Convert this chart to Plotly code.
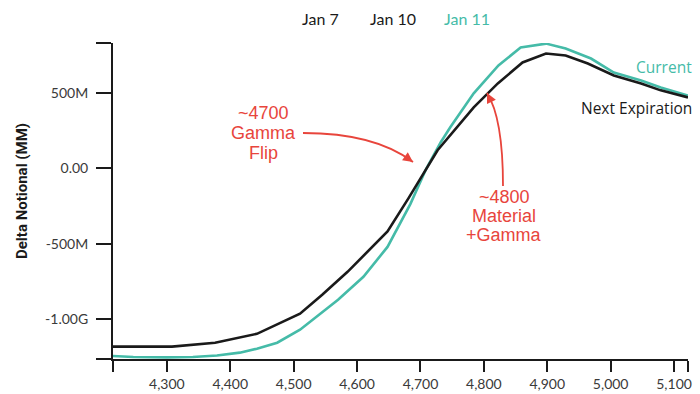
import plotly.graph_objects as go

# ---- data ----
cur_strikes = [4215, 4247, 4300, 4341, 4379, 4415, 4442, 4474, 4510, 4534, 4570, 4610,
               4648, 4684, 4708, 4732, 4747, 4784, 4823, 4858, 4898, 4929, 4969, 5005,
               5048, 5079, 5122]
cur_vals = [-1245, -1252, -1254, -1252, -1242, -1223, -1197, -1157, -1071, -991, -872, -720,
            -522, -238, -13, 172, 271, 496, 681, 800, 826, 793, 727, 634,
            581, 535, 482]

next_strikes = [4215, 4308, 4376, 4442, 4510, 4545, 4585, 4648, 4681, 4727, 4784, 4822,
                4861, 4898, 4929, 4964, 5005, 5048, 5079, 5122]
next_vals = [-1183, -1183, -1157, -1098, -965, -839, -687, -420, -200, 119, 403, 562,
             701, 760, 747, 694, 615, 562, 516, 469]

x_range = [4215, 5122]
y_range = [-1265, 830]
x_ticks = [4300, 4400, 4500, 4600, 4700, 4800, 4900, 5000, 5100]
x_tick_labels = ["4,300", "4,400", "4,500", "4,600", "4,700", "4,800", "4,900", "5,000", "5,100"]
y_ticks = [-1000, -500, 0, 500]
y_tick_labels = ["-1.00G", "-500M", "0.00", "500M"]
legend_labels = ["Jan 7", "Jan 10", "Jan 11"]

TEAL = "#45bba8"
BLACK = "#1a1a1a"
RED = "#e8453c"
GRAY = "#3a3a3a"

fig = go.Figure()
fig.add_trace(go.Scatter(x=cur_strikes, y=cur_vals, mode="lines",
                         line=dict(color=TEAL, width=2.6), name="Current"))
fig.add_trace(go.Scatter(x=next_strikes, y=next_vals, mode="lines",
                         line=dict(color=BLACK, width=2.6), name="Next Expiration"))

fig.update_layout(
    width=700, height=394,
    margin=dict(l=113, r=12, t=43, b=35, autoexpand=False),
    paper_bgcolor="white", plot_bgcolor="white",
    showlegend=False,
    font=dict(family="Lato, Open Sans, sans-serif", color=GRAY),
)

TICKFONT = dict(size=14, color=GRAY, family="Lato, Open Sans, sans-serif")
fig.update_xaxes(
    range=x_range, showgrid=False, zeroline=False,
    showline=True, linecolor=BLACK, linewidth=2,
    ticks="outside", ticklen=11, tickwidth=2, tickcolor=BLACK,
    tickvals=[x_range[0] + 0.5] + x_ticks + [x_range[1] - 0.5],
    ticktext=[""] + x_tick_labels + [""],
    tickfont=TICKFONT,
)
fig.update_yaxes(
    range=y_range, showgrid=False, zeroline=False,
    showline=True, linecolor=BLACK, linewidth=2,
    ticks="outside", ticklen=15, tickwidth=2, tickcolor=BLACK,
    tickvals=[y_range[0] + 1] + y_ticks + [y_range[1] - 1],
    ticktext=[""] + y_tick_labels + [""],
    tickfont=TICKFONT, ticklabelstandoff=5,
)

def px(xp):
    return (xp - 113) / 575.0

def py(yp):
    return (359 - yp) / 316.0

ann = []
# top "legend" labels
for lab, xc, col in zip(legend_labels, [320, 393, 467], [BLACK, BLACK, TEAL]):
    ann.append(dict(text=lab, xref="paper", yref="paper", x=px(xc), y=py(18),
                    showarrow=False, xanchor="center", yanchor="middle",
                    font=dict(size=16, color=col, family="Lato, Open Sans, sans-serif")))
# series labels
ann.append(dict(text="Current", xref="paper", yref="paper", x=px(694), y=py(67),
                showarrow=False, xanchor="right", yanchor="middle",
                font=dict(size=15.5, color=TEAL, family="Open Sans, sans-serif")))
ann.append(dict(text="Next Expiration", xref="paper", yref="paper", x=px(694), y=py(108),
                showarrow=False, xanchor="right", yanchor="middle",
                font=dict(size=15.5, color=BLACK, family="Open Sans, sans-serif")))
# y title
ann.append(dict(text="<b>Delta Notional (MM)</b>", xref="paper", yref="paper",
                x=px(22), y=py(191), textangle=-90, showarrow=False,
                xanchor="center", yanchor="middle",
                font=dict(size=15, color=BLACK, family="Roboto, sans-serif")))
# red callouts, one annotation per line
callouts = [(["~4700", "Gamma", "Flip"], 263, [113, 133, 153]),
            (["~4800", "Material", "+Gamma"], 504, [197, 216, 235])]
for lines, xc, ys in callouts:
    for t, yy in zip(lines, ys):
        ann.append(dict(text=t, xref="paper", yref="paper", x=px(xc), y=py(yy),
                        showarrow=False, xanchor="center", yanchor="middle",
                        font=dict(size=18, color=RED,
                                  family="Liberation Sans, Arial, sans-serif")))
# arrow heads
ann.append(dict(text="", xref="paper", yref="paper", x=px(413), y=py(162),
                showarrow=True, ax=-7, ay=-5, arrowhead=2, arrowsize=1.1,
                arrowwidth=1.8, arrowcolor=RED, standoff=0))
ann.append(dict(text="", xref="paper", yref="paper", x=px(487), y=py(93),
                showarrow=True, ax=4, ay=8, arrowhead=2, arrowsize=1.1,
                arrowwidth=1.8, arrowcolor=RED, standoff=0))
fig.update_layout(annotations=ann)

# curved arrow shafts
def qpath(p0, c, p1):
    return "M {},{} Q {},{} {},{}".format(px(p0[0]), py(p0[1]), px(c[0]), py(c[1]),
                                           px(p1[0]), py(p1[1]))

fig.add_shape(type="path", xref="paper", yref="paper",
              path=qpath((303, 133), (375, 133), (413, 162)),
              line=dict(color=RED, width=1.8))
fig.add_shape(type="path", xref="paper", yref="paper",
              path=qpath((503, 186), (503, 118), (487, 93)),
              line=dict(color=RED, width=1.8))

fig.write_html("out.html", config={"displayModeBar": False},
               post_script="document.body.style.margin='0';document.body.style.padding='0';")
